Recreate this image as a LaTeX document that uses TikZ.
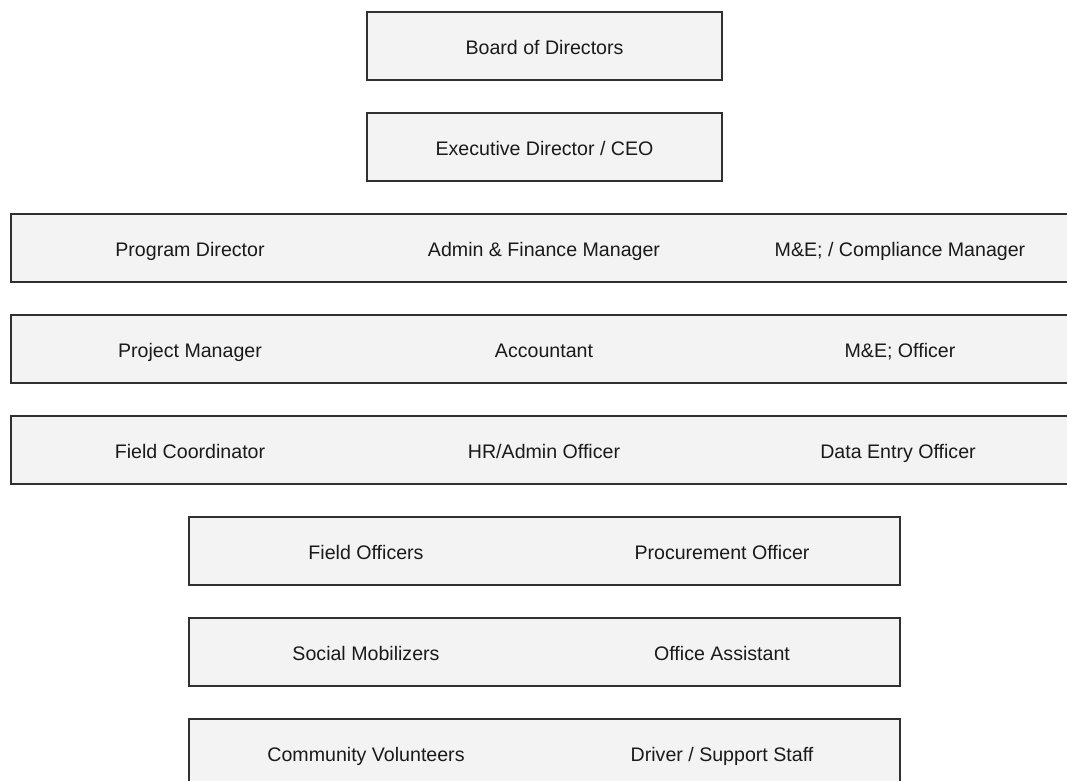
\documentclass[tikz,border=0pt]{standalone}
\usepackage{fontspec}
\setmainfont{Liberation Sans}
\definecolor{boxfill}{HTML}{F3F3F3}
\definecolor{boxline}{HTML}{303030}
\definecolor{txt}{HTML}{1A1A1A}
\begin{document}
\begin{tikzpicture}[x=0.75pt,y=-0.75pt,
  box/.style={draw=boxline,fill=boxfill,line width=1.6pt,rectangle,inner sep=0pt,minimum height=51pt},
  topbox/.style={box,minimum width=266.25pt},
  widebox/.style={box,minimum width=799.5pt},
  midbox/.style={box,minimum width=533.25pt},
  lbl/.style={font=\fontsize{14.7}{17}\selectfont,text=txt,inner sep=0pt,anchor=center,
    text height=10.6pt,text depth=3.1pt,yshift=-2.6pt}]
\useasboundingbox (0,0) rectangle (1067,781);
\clip (0,0) rectangle (1067,781);
% top boxes
\node[topbox] (b1) at (544.5,46) {};
\node[lbl] (t1) at (b1.center) {Board of Directors};
\node[topbox] (b2) at (544.5,147) {};
\node[lbl] (t2) at (b2.center) {Executive Director / CEO};
% wide rows
\node[widebox] (r3) at (544,248) {};
\node[lbl] (r3a) at (190,248) {Program Director};
\node[lbl] (r3b) at (544,248) {Admin \& Finance Manager};
\node[lbl] (r3c) at (900,248) {M\&E; / Compliance Manager};
\node[widebox] (r4) at (544,349) {};
\node[lbl] (r4a) at (190,349) {Project Manager};
\node[lbl] (r4b) at (544,349) {Accountant};
\node[lbl] (r4c) at (900,349) {M\&E; Officer};
\node[widebox] (r5) at (544,450) {};
\node[lbl] (r5a) at (190,450) {Field Coordinator};
\node[lbl] (r5b) at (544,450) {HR/Admin Officer};
\node[lbl] (r5c) at (898,450) {Data Entry Officer};
% narrower rows
\node[midbox] (r6) at (544.5,551) {};
\node[lbl] (r6a) at (366,551) {Field Officers};
\node[lbl] (r6b) at (722,551) {Procurement Officer};
\node[midbox] (r7) at (544.5,652) {};
\node[lbl] (r7a) at (366,652) {Social Mobilizers};
\node[lbl] (r7b) at (722,652) {Office Assistant};
\node[midbox] (r8) at (544.5,753) {};
\node[lbl] (r8a) at (366,753) {Community Volunteers};
\node[lbl] (r8b) at (722,753) {Driver / Support Staff};
\end{tikzpicture}
\end{document}
